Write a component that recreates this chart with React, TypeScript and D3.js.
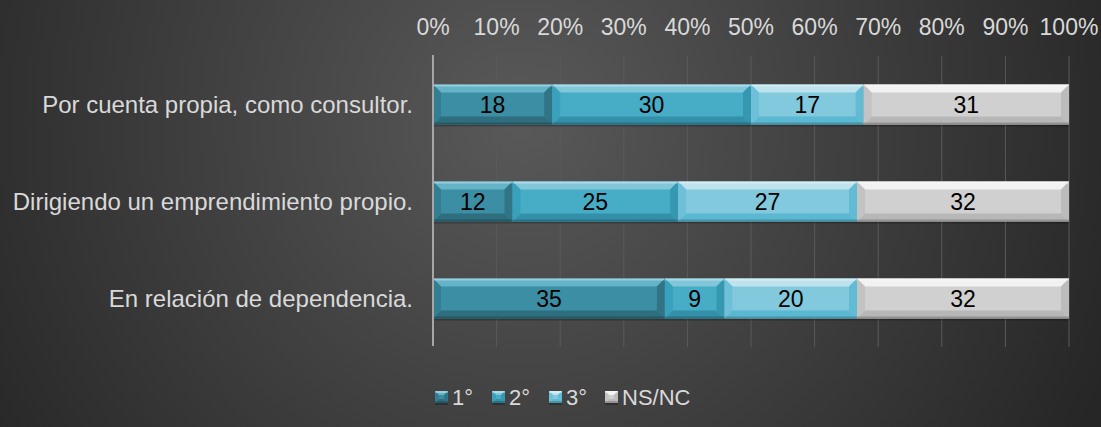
import React, { useEffect, useRef } from 'react';
import * as d3 from 'd3';

const categories = [
  'Por cuenta propia, como consultor.',
  'Dirigiendo un emprendimiento propio.',
  'En relación de dependencia.',
];
const seriesNames = ['1°', '2°', '3°', 'NS/NC'];
const first = [18, 12, 35];
const second = [30, 25, 9];
const third = [17, 27, 20];
const nsnc = [31, 32, 32];
const tickValues = [0, 0.1, 0.2, 0.3, 0.4, 0.5, 0.6, 0.7, 0.8, 0.9, 1];

const colors = ['#3b8ea4', '#47adc7', '#82c9dd', '#d0d0d0'];

const App: React.FC = () => {
  const svgRef = useRef<SVGSVGElement>(null);

  useEffect(() => {
    if (!svgRef.current) return;
    d3.select(svgRef.current).selectAll('*').remove();

    const W = 1101;
    const H = 427;
    const svg = d3.select(svgRef.current).attr('width', W).attr('height', H);
    const font = '"Liberation Sans", Arial, sans-serif';
    const fs = 23;

    // background
    const defs = svg.append('defs');
    const bg = defs.append('radialGradient')
      .attr('id', 'bg')
      .attr('gradientUnits', 'userSpaceOnUse')
      .attr('cx', 520).attr('cy', 120).attr('r', 640);
    bg.append('stop').attr('offset', '0%').attr('stop-color', '#595959');
    bg.append('stop').attr('offset', '100%').attr('stop-color', '#262626');
    svg.append('rect').attr('width', W).attr('height', H).attr('fill', 'url(#bg)');

    const margin = { left: 433, right: 32, top: 56, bottom: 80 };
    const x = d3.scaleLinear().domain([0, 1]).range([margin.left, W - margin.right]);
    const y = d3.scaleBand<string>()
      .domain(categories)
      .range([margin.top, H - margin.bottom])
      .paddingInner(0.588)
      .paddingOuter(0.294);

    const rows = categories.map((c, i) => {
      const vals = [first[i], second[i], third[i], nsnc[i]];
      const total = d3.sum(vals);
      let acc = 0;
      return vals.map((v, k) => {
        const x0 = acc / total;
        acc += v;
        return { cat: c, k, v, x0, x1: acc / total };
      });
    });

    // gridlines
    svg.append('g')
      .selectAll('line')
      .data(tickValues.slice(1))
      .enter().append('line')
      .attr('x1', d => x(d)).attr('x2', d => x(d))
      .attr('y1', margin.top).attr('y2', H - margin.bottom)
      .attr('stroke', '#5a5a5a')
      .attr('stroke-width', 1);

    // top axis labels
    svg.append('g')
      .selectAll('text')
      .data(tickValues)
      .enter().append('text')
      .attr('x', d => x(d))
      .attr('y', 35)
      .attr('text-anchor', 'middle')
      .attr('font-family', font)
      .attr('font-size', fs)
      .attr('fill', '#d9d9d9')
      .text(d => d3.format('.0%')(d));

    // category labels
    svg.append('g')
      .selectAll('text')
      .data(categories)
      .enter().append('text')
      .attr('x', 413)
      .attr('y', d => (y(d) as number) + y.bandwidth() / 2)
      .attr('dy', '0.35em')
      .attr('text-anchor', 'end')
      .attr('font-family', font)
      .attr('font-size', 24)
      .attr('fill', '#d9d9d9')
      .text(d => d);

    const bevel = (g: d3.Selection<SVGGElement, unknown, null, undefined>,
      x0: number, y0: number, w: number, h: number, color: string, b: number) => {
      const base = d3.hsl(color);
      g.append('rect').attr('x', x0).attr('y', y0 + 2).attr('width', w).attr('height', h)
        .attr('fill', '#000').attr('opacity', 0.25);
      g.append('rect').attr('x', x0).attr('y', y0).attr('width', w).attr('height', h).attr('fill', color);
      const x1 = x0 + w;
      const y1 = y0 + h;
      const poly = (pts: number[][], fill: string) =>
        g.append('polygon').attr('points', pts.map(p => p.join(',')).join(' ')).attr('fill', fill);
      poly([[x0, y0], [x1, y0], [x1 - b, y0 + b], [x0 + b, y0 + b]], d3.hsl(base.h, base.s, Math.min(0.95, base.l + 0.15)).toString());
      poly([[x0, y1], [x1, y1], [x1 - b, y1 - b], [x0 + b, y1 - b]], d3.hsl(base.h, base.s, base.l - 0.1).toString());
      poly([[x0, y0], [x0 + b, y0 + b], [x0 + b, y1 - b], [x0, y1]], d3.hsl(base.h, base.s, base.l - 0.05).toString());
      poly([[x1, y0], [x1 - b, y0 + b], [x1 - b, y1 - b], [x1, y1]], d3.hsl(base.h, base.s, base.l - 0.08).toString());
      g.append('rect').attr('x', x0).attr('y', y0).attr('width', w).attr('height', 2)
        .attr('fill', '#fff').attr('opacity', 0.35);
      g.append('rect').attr('x', x0).attr('y', y1 - 2).attr('width', w).attr('height', 2)
        .attr('fill', '#000').attr('opacity', 0.2);
    };

    const bars = svg.append('g');
    rows.forEach(row => {
      row.forEach(s => {
        const g = bars.append('g');
        const bx = x(s.x0);
        const bw = x(s.x1) - x(s.x0);
        const by = y(s.cat) as number;
        bevel(g, bx, by, bw, y.bandwidth(), colors[s.k], 8);
        g.append('text')
          .attr('x', bx + bw / 2)
          .attr('y', by + y.bandwidth() / 2)
          .attr('dy', '0.35em')
          .attr('text-anchor', 'middle')
          .attr('font-family', font)
          .attr('font-size', fs)
          .attr('fill', '#000')
          .text(s.v);
      });
    });

    // vertical axis line
    svg.append('line')
      .attr('x1', x(0)).attr('x2', x(0))
      .attr('y1', margin.top - 1).attr('y2', H - margin.bottom - 1)
      .attr('stroke', '#a6a6a6')
      .attr('stroke-width', 2);

    // legend
    const legendX = [435, 492, 549, 605];
    const legend = svg.append('g');
    seriesNames.forEach((name, i) => {
      const lg = legend.append('g').attr('transform', `translate(${legendX[i]},391)`);
      bevel(lg as any, 0, 0, 13, 12, colors[i], 4);
      lg.append('text')
        .attr('x', 17)
        .attr('y', 14)
        .attr('font-family', font)
        .attr('font-size', 22)
        .attr('fill', '#d9d9d9')
        .text(name);
    });
  }, []);

  return <svg ref={svgRef} style={{ position: 'absolute', left: 0, top: 0 }}></svg>;
};

export default App;
